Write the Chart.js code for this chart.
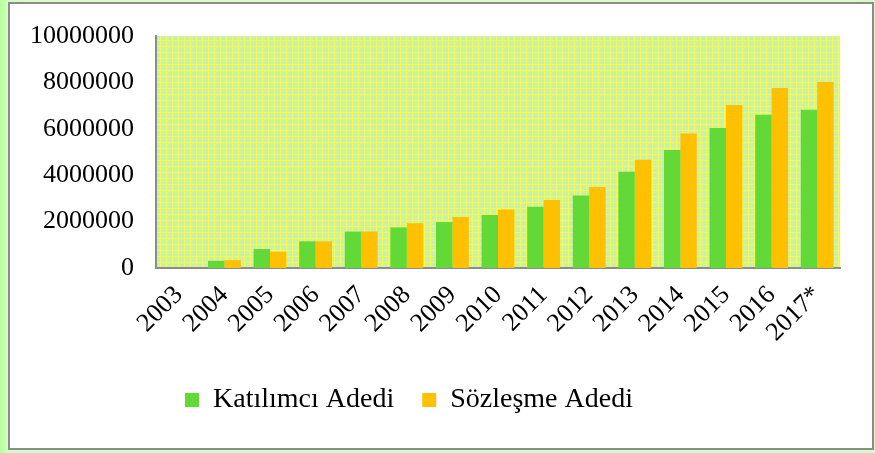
<!DOCTYPE html>
<html>
<head>
<meta charset="utf-8">
<script src="https://cdn.jsdelivr.net/npm/chart.js@4.4.0/dist/chart.umd.min.js"></script>
<style>
  html, body { margin: 0; padding: 0; }
  body {
    width: 875px; height: 453px; overflow: hidden; position: relative;
    background: linear-gradient(90deg, #b8ff9c 0px, #d4ffc4 8px, #d4ffc4 100%);
  }
  #frame {
    position: absolute; left: 8px; top: 2px;
    width: 862px; height: 444px;
    border: 2px solid #8c8c8c; background: #fff;
  }
  canvas { display: block; }
</style>
</head>
<body>
<div id="frame"><canvas id="myChart" width="862" height="444"></canvas></div>
<script>
// values
const years = ['2003', '2004', '2005', '2006', '2007', '2008', '2009', '2010',
               '2011', '2012', '2013', '2014', '2015', '2016', '2017*']
const katilimci = [0, 310000, 820000, 1150000, 1570000, 1750000, 1980000, 2280000,
                   2640000, 3130000, 4150000, 5090000, 6030000, 6610000, 6820000]
const sozlesme = [0, 340000, 700000, 1150000, 1570000, 1930000, 2200000, 2520000,
                  2930000, 3490000, 4670000, 5800000, 7030000, 7760000, 8020000]
const yTicks = [0, 2000000, 4000000, 6000000, 8000000, 10000000]

Chart.defaults.font.family = "'Liberation Serif', 'Times New Roman', serif"
Chart.defaults.font.size = 26
Chart.defaults.color = '#000'

// green plot area with the fine yellow grid
const plotBg = {
    id: 'plotBg',
    beforeDraw(chart) {
        const { ctx, chartArea: a } = chart
        const p = document.createElement('canvas')
        p.width = 6; p.height = 6
        const pc = p.getContext('2d')
        pc.fillStyle = '#c8f0b4'
        pc.fillRect(0, 0, 6, 6)
        pc.fillStyle = '#f4fc50'
        pc.fillRect(0, 0, 6, 1)
        pc.fillRect(0, 0, 1, 6)
        ctx.save()
        ctx.fillStyle = ctx.createPattern(p, 'repeat')
        ctx.fillRect(a.left, a.top, a.right - a.left, a.bottom - a.top)
        ctx.restore()
    }
}

// legend sits a bit left of the canvas centre
const legendShift = {
    id: 'legendShift',
    afterLayout(chart) {
        chart.legend.left = 0
        chart.legend.right = 798
    }
}

const ctx = document.getElementById('myChart').getContext('2d')
const myChart = new Chart(ctx, {
    type: 'bar',
    data: {
        labels: years,
        datasets: [{
            label: 'Katılımcı Adedi',
            data: katilimci,
            backgroundColor: '#62d936',
            borderWidth: 0
        }, {
            label: 'Sözleşme Adedi',
            data: sozlesme,
            backgroundColor: '#ffc000',
            borderWidth: 0
        }]
    },
    options: {
        responsive: false,
        animation: false,
        categoryPercentage: 0.72,
        barPercentage: 1.0,
        layout: { padding: { top: 32, right: 32, bottom: 24, left: 0 } },
        plugins: {
            tooltip: { enabled: false },
            legend: {
                position: 'bottom',
                labels: { boxWidth: 14, boxHeight: 14, padding: 28, color: '#000', font: { size: 28 } }
            }
        },
        scales: {
            x: {
                grid: { display: false, drawTicks: false },
                border: { display: true, color: '#8c8c8c', width: 2 },
                ticks: { minRotation: 45, maxRotation: 45, autoSkip: false, padding: 12 },
                afterFit(s) { s.height = 90 }
            },
            y: {
                min: 0,
                max: 10000000,
                afterBuildTicks(s) { s.ticks = yTicks.map(v => ({ value: v })) },
                // ticks hidden with the grid, tickLength only spaces the labels
                grid: { display: false, drawTicks: true, tickLength: 22 },
                border: { display: true, color: '#8c8c8c', width: 2 },
                ticks: {
                    padding: 0,
                    callback: function(value) { return String(value) }
                },
                afterFit(s) { s.width = 146 }
            }
        }
    },
    plugins: [plotBg, legendShift]
})
</script>
</body>
</html>
